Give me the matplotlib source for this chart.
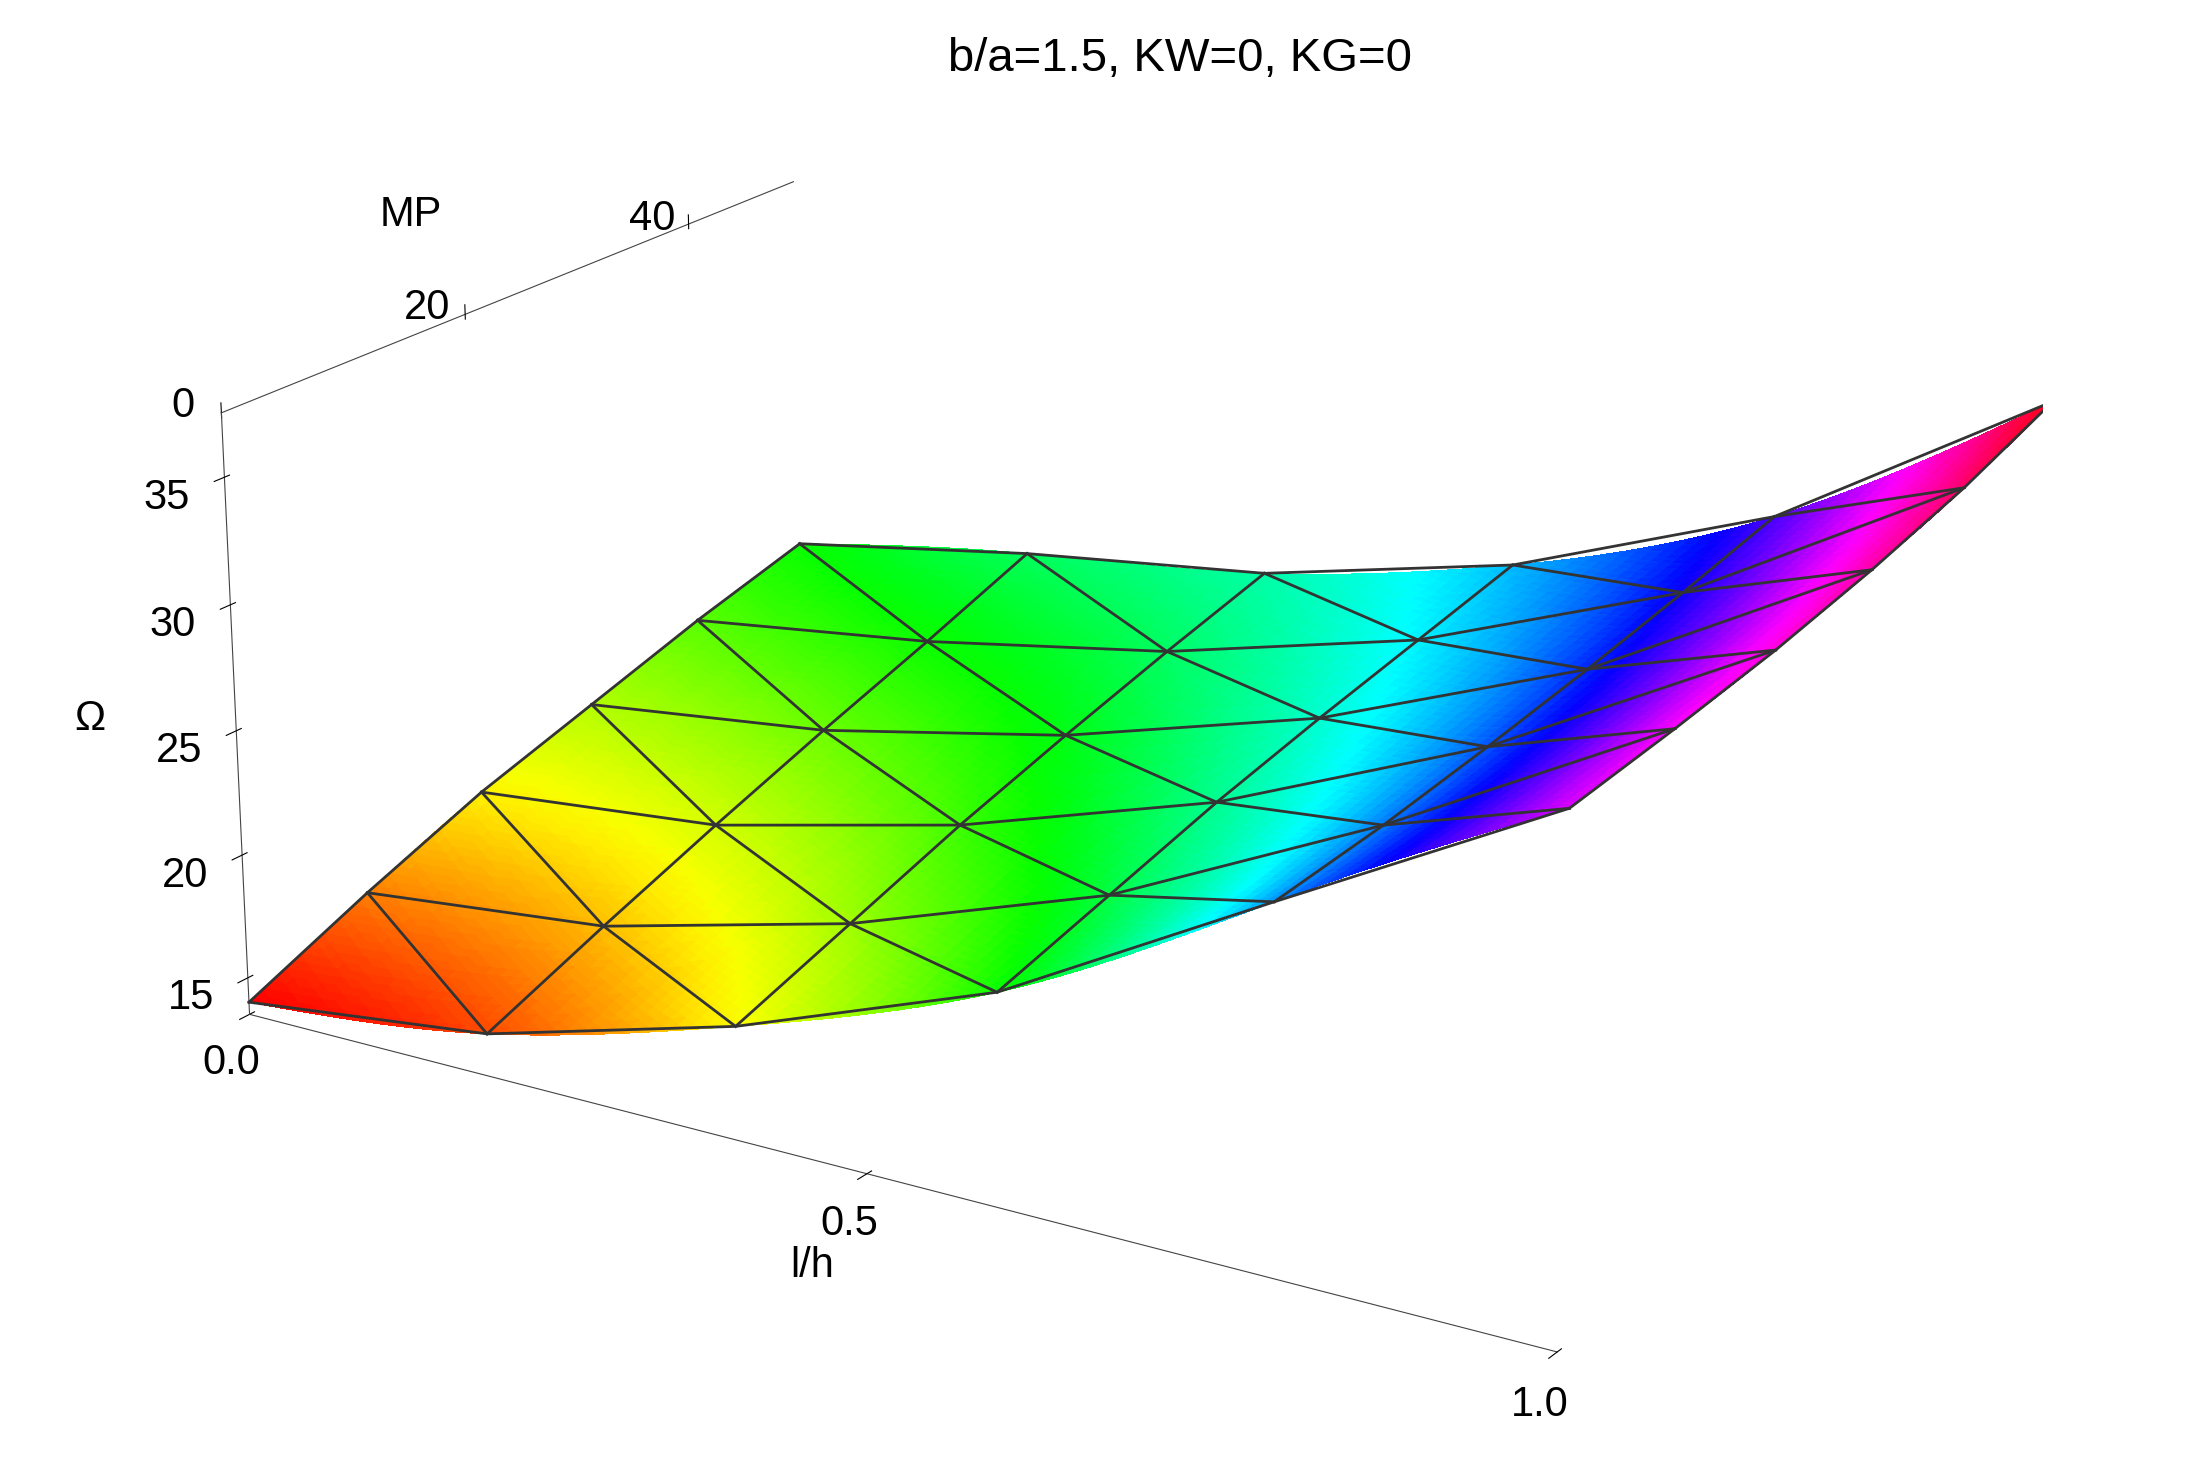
import numpy as np
import matplotlib
matplotlib.use("Agg")
import matplotlib.pyplot as plt
import matplotlib.tri as mtri

plt.rcParams['font.family'] = ['Liberation Sans', 'DejaVu Sans']

lh = [0.0, 0.2, 0.4, 0.6, 0.8, 1.0]
mp = [0, 10, 20, 30, 40, 50]
omega = [
    [14.0, 15.2, 18.0, 21.8, 27.6, 33.3],
    [16.0, 17.0, 19.5, 23.0, 28.0, 33.8],
    [17.8, 18.7, 21.0, 24.2, 28.6, 34.4],
    [19.2, 20.3, 22.3, 25.2, 29.3, 35.2],
    [20.6, 21.8, 23.5, 26.1, 30.1, 36.2],
    [21.8, 23.4, 24.6, 27.0, 31.0, 37.5],
]
title = "b/a=1.5, KW=0, KG=0"

X, Y = np.meshgrid(lh, mp)
Z = np.array(omega)
nx, ny = len(lh), len(mp)
idx = lambda i, j: j * nx + i
tris = []
for j in range(ny - 1):
    for i in range(nx - 1):
        tris.append([idx(i, j), idx(i + 1, j), idx(i, j + 1)])
        tris.append([idx(i + 1, j), idx(i + 1, j + 1), idx(i, j + 1)])
tri = mtri.Triangulation(X.ravel(), Y.ravel(), tris)

fig = plt.figure(figsize=(21.85, 14.74), dpi=100)
ax = fig.add_axes([-0.07, -0.13, 1.16, 1.26], projection='3d', computed_zorder=False)
ax.set_proj_type('persp', focal_length=0.7)
ax.view_init(elev=20, azim=-58)
ax.set_box_aspect((2.6, 1.7, 1.1))

refiner = mtri.UniformTriRefiner(tri)
ftri, fz = refiner.refine_field(Z.ravel(), subdiv=4)
zmin, zmax = Z.min(), Z.max()
ax.plot_trisurf(ftri, fz, cmap='hsv', vmin=zmin, vmax=zmax,
                linewidth=0, antialiased=False, shade=False, zorder=1)
ec = '#333333'
kw = dict(color=ec, lw=2, zorder=5)
for j in range(ny):
    ax.plot(X[j], Y[j], Z[j], **kw)
for i in range(nx):
    ax.plot(X[:, i], Y[:, i], Z[:, i], **kw)
for j in range(ny - 1):
    for i in range(nx - 1):
        ax.plot([X[j, i + 1], X[j + 1, i]], [Y[j, i + 1], Y[j + 1, i]],
                [Z[j, i + 1], Z[j + 1, i]], **kw)

ax.set_xlim(0, 1); ax.set_ylim(0, 50); ax.set_zlim(13.5, 37.5)
ax.set_xticks([0.0, 0.5, 1.0]); ax.set_xticklabels(['0.0', '0.5', '1.0'])
ax.set_yticks([0, 20, 40])
ax.set_zticks([15, 20, 25, 30, 35])
for a in (ax.xaxis, ax.yaxis, ax.zaxis):
    a.set_pane_color((1, 1, 1, 0))
    a.line.set_color('#444444')
ax.zaxis.set_ticks_position('lower'); ax.zaxis.set_label_position('lower')
ax.yaxis.set_ticks_position('upper'); ax.yaxis.set_label_position('upper')
ax.grid(False)
ax.tick_params(labelsize=30, pad=14)
ax.set_xlabel('l/h', fontsize=30, labelpad=45)
ax.set_ylabel('MP', fontsize=30, labelpad=45)
ax.set_zlabel('Ω', fontsize=30, labelpad=35)
fig.text(0.54, 0.975, title, fontsize=34, ha='center', va='top')
fig.savefig('out.png', dpi=100)
